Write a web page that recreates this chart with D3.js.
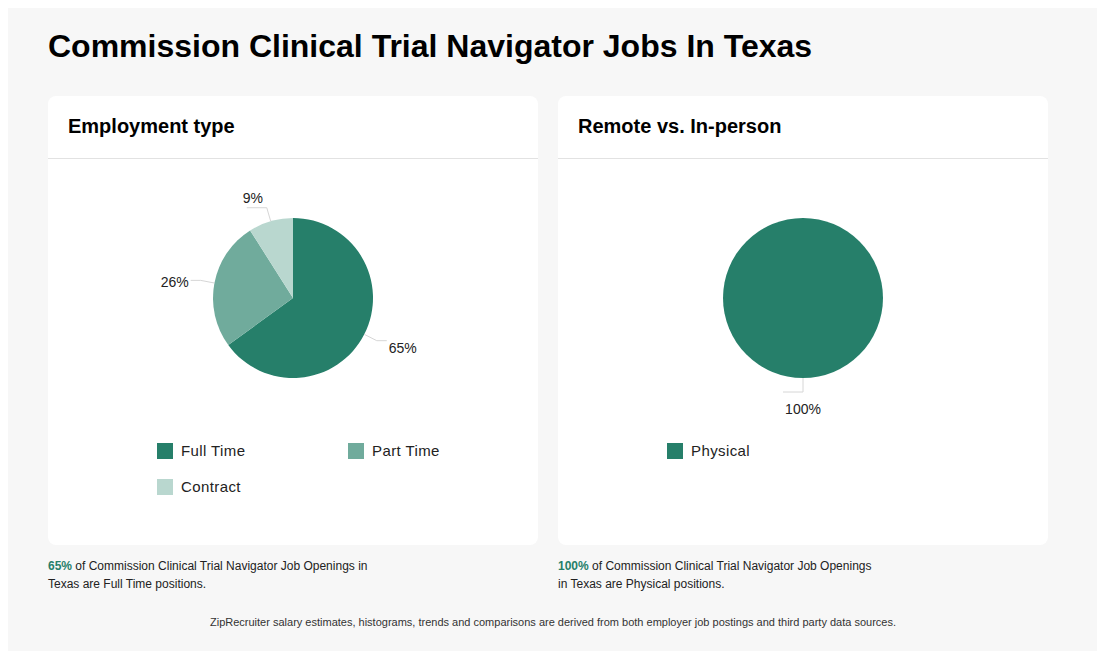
<!DOCTYPE html>
<html>
<head>
<meta charset="utf-8">
<script src="https://cdn.jsdelivr.net/npm/d3@7"></script>
<style>
  body { margin: 0; background: #fff; font-family: "Liberation Sans", Arial, sans-serif; }
</style>
</head>
<body>
<div class="canvas"></div>
<script>
      // data
      const pageTitle = 'Commission Clinical Trial Navigator Jobs In Texas';
      const employmentLabels = ['Full Time', 'Part Time', 'Contract'];
      const employmentValues = [65, 26, 9];
      const employmentColors = ['#267f6a', '#70ab9c', '#b9d7cf'];
      const remoteLabels = ['Physical'];
      const remoteValues = [100];
      const remoteColors = ['#267f6a'];
      const notes = [
        ['65%', ' of Commission Clinical Trial Navigator Job Openings in', 'Texas are Full Time positions.'],
        ['100%', ' of Commission Clinical Trial Navigator Job Openings', 'in Texas are Physical positions.']
      ];
      const footer = 'ZipRecruiter salary estimates, histograms, trends and comparisons are derived from both employer job postings and third party data sources.';

      const width = 1100, height = 651;

      const svg = d3.select('.canvas')
        .append('svg')
        .attr('width', width)
        .attr('height', height)
        .style('display', 'block');

      // grey page block
      svg.append('rect')
        .attr('x', 8).attr('y', 8)
        .attr('width', 1089).attr('height', 660)
        .attr('fill', '#f7f7f7');

      svg.append('text')
        .attr('x', 48).attr('y', 57)
        .attr('font-size', 32).attr('font-weight', 'bold')
        .attr('fill', '#000')
        .text(pageTitle);

      const panels = [
        { x: 48, title: 'Employment type', labels: employmentLabels, values: employmentValues, colors: employmentColors, note: notes[0] },
        { x: 558, title: 'Remote vs. In-person', labels: remoteLabels, values: remoteValues, colors: remoteColors, note: notes[1] }
      ];

      const radius = 80;
      const pie = d3.pie().sort(null).value(d => d);
      const arc = d3.arc().innerRadius(0).outerRadius(radius);

      panels.forEach(p => {
        const card = svg.append('g').attr('transform', `translate(${p.x}, 96)`);

        card.append('rect')
          .attr('width', 490).attr('height', 449)
          .attr('rx', 8)
          .attr('fill', '#fff');

        card.append('text')
          .attr('x', 20).attr('y', 37)
          .attr('font-size', 20).attr('font-weight', 'bold')
          .attr('fill', '#000')
          .text(p.title);

        card.append('line')
          .attr('x1', 0).attr('x2', 490)
          .attr('y1', 62.5).attr('y2', 62.5)
          .attr('stroke', '#e2e2e2');

        // pie
        const graph = card.append('g').attr('transform', 'translate(245, 202)');
        const arcs = pie(p.values);

        graph.selectAll('path')
          .data(arcs)
          .enter()
          .append('path')
            .attr('d', arc)
            .attr('fill', (d, i) => p.colors[i]);

        // leader lines + labels
        arcs.forEach(d => {
          const a = (d.startAngle + d.endAngle) / 2;
          const sx = Math.sin(a), sy = -Math.cos(a);
          const p0 = [sx * radius, sy * radius];
          const p1 = [sx * (radius + 14), sy * (radius + 14)];
          const side = sx > 0.05 ? 1 : -1;
          const top = sy < -0.9;
          const p2 = [p1[0] + side * (top || Math.abs(sx) < 0.05 ? 20 : 10), p1[1]];

          graph.append('polyline')
            .attr('points', [p0, p1, p2].map(q => q.join(',')).join(' '))
            .attr('fill', 'none')
            .attr('stroke', '#d6d6d6')
            .attr('stroke-width', 1);

          const label = graph.append('text')
            .attr('font-size', 14)
            .attr('fill', '#222')
            .text(d.data + '%');

          if (Math.abs(sx) < 0.05) {
            // bottom: centred under the elbow
            label.attr('x', p1[0]).attr('y', p1[1] + 22).attr('text-anchor', 'middle');
          } else if (top) {
            // near the top: label sits on the horizontal
            label.attr('x', p2[0] - side * 6).attr('y', p2[1] - 5).attr('text-anchor', 'middle');
          } else {
            // labels drift a little further out vertically
            label.attr('x', p2[0] + side * 2).attr('y', p2[1] + 8.3 + 9.4 * sy)
              .attr('text-anchor', side > 0 ? 'start' : 'end');
          }
        });

        // legend
        const legend = card.selectAll('.legend')
          .data(p.labels)
          .enter()
          .append('g')
            .attr('class', 'legend')
            .attr('transform', (d, i) => `translate(${109 + (i % 2) * 191}, ${347 + Math.floor(i / 2) * 36})`);

        legend.append('rect')
          .attr('width', 16).attr('height', 16)
          .attr('fill', (d, i) => p.colors[i]);

        legend.append('text')
          .attr('x', 24).attr('y', 13)
          .attr('font-size', 15)
          .attr('letter-spacing', 0.4)
          .attr('fill', '#222')
          .text(d => d);

        // note below the card
        const note = svg.append('text')
          .attr('x', p.x).attr('y', 570)
          .attr('font-size', 12)
          .attr('fill', '#222');
        note.append('tspan')
          .attr('font-weight', 'bold').attr('fill', '#267f6a')
          .text(p.note[0]);
        note.append('tspan').text(p.note[1]);
        svg.append('text')
          .attr('x', p.x).attr('y', 588)
          .attr('font-size', 12)
          .attr('fill', '#222')
          .text(p.note[2]);
      });

      svg.append('text')
        .attr('x', 553).attr('y', 626)
        .attr('text-anchor', 'middle')
        .attr('font-size', 11)
        .attr('fill', '#333')
        .text(footer);
</script>
</body>
</html>
